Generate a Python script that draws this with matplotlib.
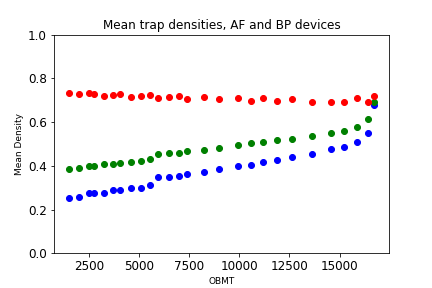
import matplotlib
matplotlib.use('Agg')
import matplotlib.pyplot as plt
from matplotlib.ticker import MultipleLocator

# OBMT sample points (shared by all three series)
obmt = [1500, 2000, 2500, 2750, 3250, 3700, 4050, 4600, 5100, 5550, 5950,
        6500, 7000, 7400, 8250, 9000, 9950, 10600, 11200, 11900, 12650,
        13600, 14550, 15200, 15850, 16400, 16700]

# mean densities per series
blue_vals = [0.255, 0.260, 0.274, 0.278, 0.278, 0.288, 0.292, 0.301, 0.301,
             0.311, 0.347, 0.347, 0.356, 0.361, 0.370, 0.384, 0.398, 0.402,
             0.416, 0.425, 0.439, 0.453, 0.476, 0.485, 0.508, 0.549, 0.677]
green_vals = [0.384, 0.389, 0.398, 0.398, 0.407, 0.407, 0.411, 0.416, 0.422,
              0.430, 0.453, 0.457, 0.457, 0.466, 0.471, 0.480, 0.494, 0.503,
              0.508, 0.517, 0.521, 0.535, 0.549, 0.558, 0.577, 0.613, 0.691]
red_vals = [0.733, 0.728, 0.733, 0.728, 0.720, 0.723, 0.728, 0.714, 0.720,
            0.723, 0.710, 0.714, 0.719, 0.705, 0.714, 0.705, 0.710, 0.696,
            0.710, 0.696, 0.705, 0.691, 0.691, 0.691, 0.710, 0.691, 0.719]

fig = plt.figure(figsize=(6, 4), dpi=72)
ax = fig.add_subplot(111)
plt.subplots_adjust(left=0.125, right=0.9, top=0.88, bottom=0.12)

ax.plot(obmt, blue_vals, 'o', color='blue')
ax.plot(obmt, green_vals, 'o', color='green')
ax.plot(obmt, red_vals, 'o', color='red')

ax.set_ylim(0, 1.0)
ax.xaxis.set_major_locator(MultipleLocator(2500))
ax.set_title('Mean trap densities, AF and BP devices', fontsize=12)
ax.set_xlabel('OBMT', fontsize=9)
ax.set_ylabel('Mean Density', fontsize=9)
ax.tick_params(labelsize=12)

plt.savefig('out.png', dpi=72)
